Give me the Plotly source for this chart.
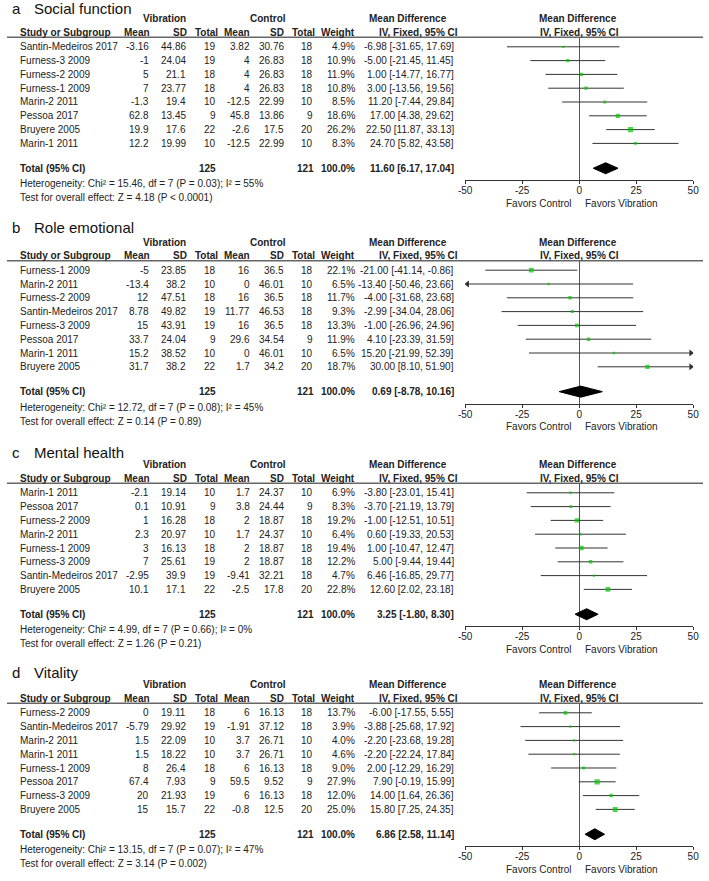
import plotly.graph_objects as go
import math

W, H = 709, 881
FONT = "Liberation Sans, Arial, sans-serif"

# ---------------- DATA ----------------
titles = ["Social function", "Role emotional", "Mental health", "Vitality"]
letters = ["a", "b", "c", "d"]

studies_a = ["Santin-Medeiros 2017", "Furness-3 2009", "Furness-2 2009", "Furness-1 2009",
             "Marin-2 2011", "Pessoa 2017", "Bruyere 2005", "Marin-1 2011"]
vib_mean_a = [-3.16, -1, 5, 7, -1.3, 62.8, 19.9, 12.2]
vib_sd_a = [44.86, 24.04, 21.1, 23.77, 19.4, 13.45, 17.6, 19.99]
vib_n_a = [19, 19, 18, 18, 10, 9, 22, 10]
ctl_mean_a = [3.82, 4, 4, 4, -12.5, 45.8, -2.6, -12.5]
ctl_sd_a = [30.76, 26.83, 26.83, 26.83, 22.99, 13.86, 17.5, 22.99]
ctl_n_a = [18, 18, 18, 18, 10, 9, 20, 10]
weight_a = [4.9, 10.9, 11.9, 10.8, 8.5, 18.6, 26.2, 8.3]
md_a = [-6.98, -5.00, 1.00, 3.00, 11.20, 17.00, 22.50, 24.70]
lo_a = [-31.65, -21.45, -14.77, -13.56, -7.44, 4.38, 11.87, 5.82]
hi_a = [17.69, 11.45, 16.77, 19.56, 29.84, 29.62, 33.13, 43.58]
total_a = [11.60, 6.17, 17.04]
het_a = "Heterogeneity: Chi² = 15.46, df = 7 (P = 0.03); I² = 55%"
test_a = "Test for overall effect: Z = 4.18 (P < 0.0001)"

studies_b = ["Furness-1 2009", "Marin-2 2011", "Furness-2 2009", "Santin-Medeiros 2017",
             "Furness-3 2009", "Pessoa 2017", "Marin-1 2011", "Bruyere 2005"]
vib_mean_b = [-5, -13.4, 12, 8.78, 15, 33.7, 15.2, 31.7]
vib_sd_b = [23.85, 38.2, 47.51, 49.82, 43.91, 24.04, 38.52, 38.2]
vib_n_b = [18, 10, 18, 19, 19, 9, 10, 22]
ctl_mean_b = [16, 0, 16, 11.77, 16, 29.6, 0, 1.7]
ctl_sd_b = [36.5, 46.01, 36.5, 46.53, 36.5, 34.54, 46.01, 34.2]
ctl_n_b = [18, 10, 18, 18, 18, 9, 10, 20]
weight_b = [22.1, 6.5, 11.7, 9.3, 13.3, 11.9, 6.5, 18.7]
md_b = [-21.00, -13.40, -4.00, -2.99, -1.00, 4.10, 15.20, 30.00]
lo_b = [-41.14, -50.46, -31.68, -34.04, -26.96, -23.39, -21.99, 8.10]
hi_b = [-0.86, 23.66, 23.68, 28.06, 24.96, 31.59, 52.39, 51.90]
total_b = [0.69, -8.78, 10.16]
het_b = "Heterogeneity: Chi² = 12.72, df = 7 (P = 0.08); I² = 45%"
test_b = "Test for overall effect: Z = 0.14 (P = 0.89)"

studies_c = ["Marin-1 2011", "Pessoa 2017", "Furness-2 2009", "Marin-2 2011",
             "Furness-1 2009", "Furness-3 2009", "Santin-Medeiros 2017", "Bruyere 2005"]
vib_mean_c = [-2.1, 0.1, 1, 2.3, 3, 7, -2.95, 10.1]
vib_sd_c = [19.14, 10.91, 16.28, 20.97, 16.13, 25.61, 39.9, 17.1]
vib_n_c = [10, 9, 18, 10, 18, 19, 19, 22]
ctl_mean_c = [1.7, 3.8, 2, 1.7, 2, 2, -9.41, -2.5]
ctl_sd_c = [24.37, 24.44, 18.87, 24.37, 18.87, 18.87, 32.21, 17.8]
ctl_n_c = [10, 9, 18, 10, 18, 18, 18, 20]
weight_c = [6.9, 8.3, 19.2, 6.4, 19.4, 12.2, 4.7, 22.8]
md_c = [-3.80, -3.70, -1.00, 0.60, 1.00, 5.00, 6.46, 12.60]
lo_c = [-23.01, -21.19, -12.51, -19.33, -10.47, -9.44, -16.85, 2.02]
hi_c = [15.41, 13.79, 10.51, 20.53, 12.47, 19.44, 29.77, 23.18]
total_c = [3.25, -1.80, 8.30]
het_c = "Heterogeneity: Chi² = 4.99, df = 7 (P = 0.66); I² = 0%"
test_c = "Test for overall effect: Z = 1.26 (P = 0.21)"

studies_d = ["Furness-2 2009", "Santin-Medeiros 2017", "Marin-2 2011", "Marin-1 2011",
             "Furness-1 2009", "Pessoa 2017", "Furness-3 2009", "Bruyere 2005"]
vib_mean_d = [0, -5.79, 1.5, 1.5, 8, 67.4, 20, 15]
vib_sd_d = [19.11, 29.92, 22.09, 18.22, 26.4, 7.93, 21.93, 15.7]
vib_n_d = [18, 19, 10, 10, 18, 9, 19, 22]
ctl_mean_d = [6, -1.91, 3.7, 3.7, 6, 59.5, 6, -0.8]
ctl_sd_d = [16.13, 37.12, 26.71, 26.71, 16.13, 9.52, 16.13, 12.5]
ctl_n_d = [18, 18, 10, 10, 18, 9, 18, 20]
weight_d = [13.7, 3.9, 4.0, 4.6, 9.0, 27.9, 12.0, 25.0]
md_d = [-6.00, -3.88, -2.20, -2.20, 2.00, 7.90, 14.00, 15.80]
lo_d = [-17.55, -25.68, -23.68, -22.24, -12.29, -0.19, 1.64, 7.25]
hi_d = [5.55, 17.92, 19.28, 17.84, 16.29, 15.99, 26.36, 24.35]
total_d = [6.86, 2.58, 11.14]
het_d = "Heterogeneity: Chi² = 13.15, df = 7 (P = 0.07); I² = 47%"
test_d = "Test for overall effect: Z = 3.14 (P = 0.002)"

total_vib_n = 125
total_ctl_n = 121

tick_vals = [-50, -25, 0, 25, 50]
tick_text = ["-50", "-25", "0", "25", "50"]

panels = [
    (studies_a, vib_mean_a, vib_sd_a, vib_n_a, ctl_mean_a, ctl_sd_a, ctl_n_a, weight_a, md_a, lo_a, hi_a, total_a, het_a, test_a),
    (studies_b, vib_mean_b, vib_sd_b, vib_n_b, ctl_mean_b, ctl_sd_b, ctl_n_b, weight_b, md_b, lo_b, hi_b, total_b, het_b, test_b),
    (studies_c, vib_mean_c, vib_sd_c, vib_n_c, ctl_mean_c, ctl_sd_c, ctl_n_c, weight_c, md_c, lo_c, hi_c, total_c, het_c, test_c),
    (studies_d, vib_mean_d, vib_sd_d, vib_n_d, ctl_mean_d, ctl_sd_d, ctl_n_d, weight_d, md_d, lo_d, hi_d, total_d, het_d, test_d),
]

# ---------------- LAYOUT GEOMETRY (pixels) ----------------
TOPS = [37.3, 260.7, 483.3, 703.3]      # header rule y of each panel
TITLE_Y = [8.5, 227.5, 452.0, 672.0]
ROW0 = 9.5       # first row offset below rule
STEP = 13.8      # row step
AXIS_OFF = 143.0 # forest axis line below rule
TOTAL_ROW = 8.8
PLOT_X0, PLOT_X1 = 466.7, 699.0
XMIN, XMAX = -50, 50

GREEN = "#00c800"
LINE = "#333333"
TXT = "#222222"


def px(x):
    return x / W


def py(y):
    return 1 - y / H


fig = go.Figure()
annotations = []
shapes = []


def add_text(x, y, text, anchor="right", bold=False, size=10, color=TXT):
    annotations.append(dict(
        x=px(x), y=py(y), xref="paper", yref="paper", text=("<b>%s</b>" % text) if bold else text,
        showarrow=False, xanchor=anchor, yanchor="middle",
        font=dict(family=FONT, size=size, color=color)))


def fmt(v):
    return "%g" % v


layout_axes = {}

for k, (st, vm, vs, vn, cm, cs, cn, wt, md, lo, hi, tot, het, test) in enumerate(panels):
    T = TOPS[k]
    xa = "x" if k == 0 else "x%d" % (k + 1)
    ya = "y" if k == 0 else "y%d" % (k + 1)
    xkey = "xaxis" if k == 0 else "xaxis%d" % (k + 1)
    ykey = "yaxis" if k == 0 else "yaxis%d" % (k + 1)

    r_top = -ROW0 / STEP
    r_bot = (AXIS_OFF - ROW0) / STEP

    layout_axes[ykey] = dict(domain=[py(T + AXIS_OFF), py(T)], range=[r_bot, r_top],
                             visible=False, showgrid=False, zeroline=False, fixedrange=True)
    layout_axes[xkey] = dict(domain=[px(PLOT_X0), px(PLOT_X1)], range=[XMIN, XMAX], anchor=ya,
                             showgrid=False, zeroline=True, zerolinecolor="#555555", zerolinewidth=1,
                             showline=True, linecolor=LINE, linewidth=1,
                             ticks="outside", ticklen=3, tickcolor=LINE, tickwidth=1,
                             ticklabelstandoff=-2,
                             tickvals=tick_vals, ticktext=tick_text,
                             tickfont=dict(family=FONT, size=10, color=TXT), fixedrange=True)
    okey = "xaxis%d" % (k + 5)
    layout_axes[okey] = dict(domain=[px(PLOT_X0), px(PLOT_X1)], range=[XMIN, XMAX], anchor=ya,
                             overlaying=xa, showgrid=False, zeroline=False, showline=False,
                             ticks="inside", ticklen=4, tickcolor=LINE, tickwidth=1,
                             tickvals=tick_vals, showticklabels=False, fixedrange=True)

    rows = list(range(len(st)))

    # CI lines
    lx, ly = [], []
    la_x, la_y, ra_x, ra_y = [], [], [], []
    for i in rows:
        a = max(lo[i], XMIN)
        b = min(hi[i], XMAX)
        lx += [a, b, None]
        ly += [i, i, None]
        if lo[i] < XMIN:
            la_x.append(XMIN + 1.0)
            la_y.append(i)
        if hi[i] > XMAX:
            ra_x.append(XMAX - 1.0)
            ra_y.append(i)
    fig.add_trace(go.Scatter(x=lx, y=ly, mode="lines", line=dict(color=LINE, width=1),
                             xaxis=xa, yaxis=ya, hoverinfo="skip", showlegend=False))
    if la_x:
        fig.add_trace(go.Scatter(x=la_x, y=la_y, mode="markers",
                                 marker=dict(symbol="triangle-left", size=6, color=LINE),
                                 xaxis=xa, yaxis=ya, hoverinfo="skip", showlegend=False))
    if ra_x:
        fig.add_trace(go.Scatter(x=ra_x, y=ra_y, mode="markers",
                                 marker=dict(symbol="triangle-right", size=6, color=LINE),
                                 xaxis=xa, yaxis=ya, hoverinfo="skip", showlegend=False))
    # squares
    fig.add_trace(go.Scatter(x=md, y=rows, mode="markers",
                             marker=dict(symbol="square", color=GREEN,
                                         size=[max(math.sqrt(w), 2.3) for w in wt],
                                         line=dict(width=0)),
                             xaxis=xa, yaxis=ya, showlegend=False))
    # diamond
    h = 0.4
    est, tlo, thi = tot
    fig.add_trace(go.Scatter(x=[tlo, est, thi, est, tlo],
                             y=[TOTAL_ROW, TOTAL_ROW - h, TOTAL_ROW, TOTAL_ROW + h, TOTAL_ROW],
                             mode="lines", fill="toself", fillcolor="black",
                             line=dict(color="black", width=1),
                             xaxis=xa, yaxis=ya, hoverinfo="skip", showlegend=False))

    # header rule
    shapes.append(dict(type="line", xref="paper", yref="paper", x0=0, x1=1, y0=py(T), y1=py(T),
                       line=dict(color="#666666", width=1.5)))

    # titles
    add_text(3, TITLE_Y[k], letters[k], anchor="left", size=15, color="#111111")
    add_text(25, TITLE_Y[k], titles[k], anchor="left", size=15, color="#111111")

    # group headers
    hy1 = T - 18.5
    hy2 = T - 5
    add_text(160.5, hy1, "Vibration", anchor="center", bold=True)
    add_text(265.5, hy1, "Control", anchor="center", bold=True)
    add_text(408, hy1, "Mean Difference", anchor="center", bold=True)
    add_text(582, hy1, "Mean Difference", anchor="center", bold=True)
    add_text(11, hy2, "Study or Subgroup", anchor="left", bold=True)
    add_text(148, hy2, "Mean", bold=True)
    add_text(185, hy2, "SD", bold=True)
    add_text(217, hy2, "Total", bold=True)
    add_text(250, hy2, "Mean", bold=True)
    add_text(284.3, hy2, "SD", bold=True)
    add_text(315.7, hy2, "Total", bold=True)
    add_text(356.7, hy2, "Weight", bold=True)
    add_text(461.7, hy2, "IV, Fixed, 95% CI", bold=True)
    add_text(583, hy2, "IV, Fixed, 95% CI", anchor="center", bold=True)

    for i in rows:
        yy = T + ROW0 + STEP * i
        add_text(11, yy, st[i], anchor="left")
        add_text(147, yy, fmt(vm[i]))
        add_text(184.5, yy, fmt(vs[i]))
        add_text(214.5, yy, str(vn[i]))
        add_text(249.5, yy, fmt(cm[i]))
        add_text(284.3, yy, fmt(cs[i]))
        add_text(313.5, yy, str(cn[i]))
        add_text(356.7, yy, "%.1f%%" % wt[i])
        add_text(457.5, yy, "%.2f [%.2f, %.2f]" % (md[i], lo[i], hi[i]))

    ty = T + ROW0 + STEP * TOTAL_ROW
    add_text(11, ty, "Total (95% CI)", anchor="left", bold=True)
    add_text(214.5, ty, str(total_vib_n), bold=True)
    add_text(315, ty, str(total_ctl_n), bold=True)
    add_text(356.7, ty, "100.0%", bold=True)
    add_text(457.5, ty, "%.2f [%.2f, %.2f]" % (est, tlo, thi), bold=True)

    add_text(11, T + 146.5, het, anchor="left")
    add_text(11, T + 160.5, test, anchor="left")

    # favors
    zero_px = PLOT_X0 + (0 - XMIN) / (XMAX - XMIN) * (PLOT_X1 - PLOT_X0)
    add_text(zero_px - 5, T + 166, "Favors Control", anchor="right")
    add_text(zero_px + 4, T + 166, "Favors Vibration", anchor="left")

fig.update_layout(
    width=W, height=H, margin=dict(l=0, r=0, t=0, b=0),
    paper_bgcolor="white", plot_bgcolor="rgba(0,0,0,0)",
    annotations=annotations, shapes=shapes, showlegend=False,
    font=dict(family=FONT, size=10, color=TXT),
    **layout_axes,
)

fig.write_html("out.html",
               config={"displayModeBar": False},
               post_script="document.body.style.margin='0';document.body.style.padding='0';")
